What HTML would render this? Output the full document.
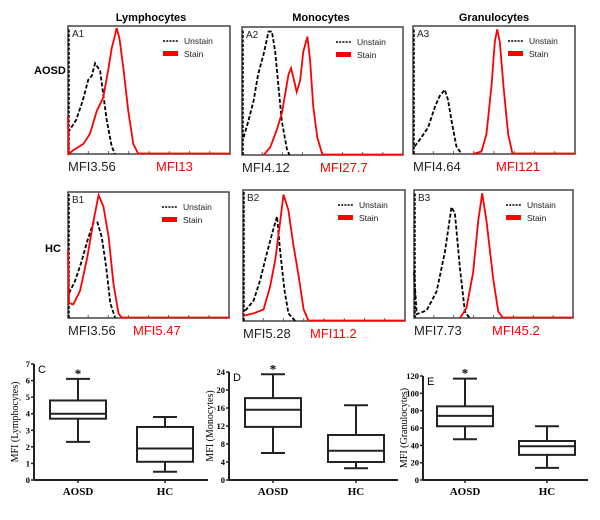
<!DOCTYPE html>
<html><head><meta charset="utf-8"><style>
body{margin:0;background:#fff;width:600px;height:520px;overflow:hidden}
svg{display:block}
.t{font-family:"Liberation Sans",sans-serif}
.s{font-family:"Liberation Serif",serif}
</style></head><body>
<svg id="fig" width="600" height="520" viewBox="0 0 600 520"></svg>
<script>
// ---------- Histogram data (x fraction, relative height) ----------
const a1Unstain=[[0,0.17],[0.05,0.27],[0.09,0.42],[0.125,0.59],[0.146,0.62],[0.167,0.72],[0.198,0.66],[0.218,0.47],[0.239,0.27],[0.27,0.06],[0.29,0]];
const a1Stain=[[0,0.3],[0.005,0],[0.033,0.03],[0.095,0.08],[0.136,0.16],[0.177,0.34],[0.218,0.45],[0.25,0.68],[0.27,0.84],[0.29,0.94],[0.3,1.0],[0.317,0.92],[0.342,0.68],[0.372,0.34],[0.403,0.08],[0.434,0]];
const a2Unstain=[[0.01,0.14],[0.04,0.27],[0.072,0.43],[0.1,0.64],[0.134,0.8],[0.165,0.98],[0.186,0.98],[0.206,0.82],[0.227,0.54],[0.247,0.27],[0.278,0.05],[0.295,0]];
const a2Stain=[[0.134,0],[0.175,0.06],[0.216,0.2],[0.247,0.33],[0.268,0.48],[0.289,0.64],[0.305,0.69],[0.32,0.61],[0.34,0.5],[0.361,0.59],[0.381,0.82],[0.406,0.94],[0.423,0.75],[0.443,0.38],[0.468,0.14],[0.5,0]];
const a3Unstain=[[0.01,0.06],[0.04,0.11],[0.093,0.21],[0.134,0.37],[0.165,0.46],[0.196,0.51],[0.216,0.43],[0.237,0.27],[0.268,0.06],[0.3,0]];
const a3Stain=[[0.371,0],[0.423,0.02],[0.454,0.16],[0.485,0.55],[0.505,0.89],[0.52,0.99],[0.536,0.89],[0.56,0.52],[0.587,0.16],[0.614,0]];
const b1Unstain=[[0.006,0.2],[0.044,0.3],[0.085,0.46],[0.12,0.62],[0.158,0.77],[0.183,0.77],[0.21,0.65],[0.237,0.41],[0.263,0.12],[0.293,0]];
const b1Stain=[[0,0.55],[0.006,0.12],[0.033,0.11],[0.075,0.22],[0.12,0.49],[0.158,0.78],[0.19,0.99],[0.22,0.9],[0.253,0.65],[0.282,0.28],[0.313,0.04],[0.334,0]];
const b2Unstain=[[0.014,0.08],[0.066,0.16],[0.107,0.32],[0.148,0.53],[0.18,0.68],[0.21,0.81],[0.23,0.53],[0.255,0.25],[0.28,0.06],[0.322,0]];
const b2Stain=[[0.004,0.04],[0.066,0.06],[0.127,0.09],[0.168,0.27],[0.2,0.48],[0.23,0.78],[0.25,0.98],[0.28,0.86],[0.31,0.6],[0.343,0.35],[0.374,0.09],[0.405,0]];
const b3Unstain=[[0,0.37],[0.017,0.03],[0.079,0.06],[0.142,0.21],[0.194,0.52],[0.236,0.88],[0.257,0.83],[0.289,0.39],[0.32,0.05],[0.35,0]];
const b3Stain=[[0.289,0],[0.33,0.08],[0.372,0.36],[0.404,0.77],[0.429,0.99],[0.456,0.77],[0.498,0.31],[0.53,0.05],[0.56,0]];
const histLabels=["A1","A2","A3","B1","B2","B3"];
const mfiUnstain=["MFI3.56","MFI4.12","MFI4.64","MFI3.56","MFI5.28","MFI7.73"];
const mfiStain=["MFI13","MFI27.7","MFI121","MFI5.47","MFI11.2","MFI45.2"];
// ---------- Box plot data ----------
const boxGroups=["AOSD","HC"];
const lymphAOSD=[2.3,3.7,4.0,4.8,6.1];
const lymphHC=[0.5,1.1,1.9,3.2,3.8];
const monoAOSD=[6,11.8,15.6,18.2,23.5];
const monoHC=[2.6,4,6.5,10,16.6];
const granAOSD=[47,62,74,85,117];
const granHC=[14,29,39,45,62];
const lymphTicks=[0,1,2,3,4,5,6,7];
const monoTicks=[0,4,8,12,16,20,24];
const granTicks=[0,20,40,60,80,100,120];

const NS="http://www.w3.org/2000/svg";
const svg=document.getElementById('fig');
function mk(tag,attrs,parent){const e=document.createElementNS(NS,tag);for(const k in attrs)e.setAttribute(k,attrs[k]);(parent||svg).appendChild(e);return e;}
function txt(s,attrs,parent){const e=mk('text',attrs,parent);e.textContent=s;return e;}

const tt1=txt("Lymphocytes",{x:151,y:21,'text-anchor':'middle','font-size':11,'font-weight':'bold',class:'t'});

const tt2=txt("Monocytes",{x:321,y:21,'text-anchor':'middle','font-size':11,'font-weight':'bold',class:'t'});

const tt3=txt("Granulocytes",{x:494,y:21,'text-anchor':'middle','font-size':11,'font-weight':'bold',class:'t'});

const r1=txt("AOSD",{x:34,y:74,'font-size':11,'font-weight':'bold',class:'t'});

const r2=txt("HC",{x:45,y:252,'font-size':11,'font-weight':'bold',class:'t'});


const panels=[
 {x:68,y:26,w:162,h:128,u:a1Unstain,s:a1Stain,redX:156},
 {x:242,y:27,w:161,h:128,u:a2Unstain,s:a2Stain,redX:320},
 {x:413,y:26,w:162,h:128,u:a3Unstain,s:a3Stain,redX:496},
 {x:68,y:192,w:161,h:126,u:b1Unstain,s:b1Stain,redX:133},
 {x:243,y:190,w:162,h:131,u:b2Unstain,s:b2Stain,redX:310},
 {x:414,y:190,w:159,h:128,u:b3Unstain,s:b3Stain,redX:492}
];
panels.forEach((p,i)=>{
  const g=mk('g',{});
  
  
  const sx=f=>p.x+f*p.w, sy=h=>p.y+p.h-h*(p.h-2);
  mk('rect',{x:p.x,y:p.y,width:p.w,height:p.h,fill:'none',stroke:'#444','stroke-width':1.5},g);
  for(let k=1;k<8;k++)mk('line',{x1:p.x+k*p.w/8,x2:p.x+k*p.w/8,y1:p.y+p.h,y2:p.y+p.h-3,stroke:'#444','stroke-width':0.8},g);
  mk('line',{x1:p.x+1,x2:p.x+1,y1:p.y+p.h,y2:p.y+2,stroke:'#000','stroke-width':1.5,'stroke-dasharray':'3,1.5'},g);
  const ptsU=p.u.map(d=>sx(d[0]).toFixed(1)+','+sy(d[1]).toFixed(1)).join(' ');
  const pu=mk('polyline',{points:ptsU,fill:'none',stroke:'#000','stroke-width':1.8,'stroke-dasharray':'4,2'},g);
  
  const ptsS=p.s.map(d=>sx(d[0]).toFixed(1)+','+sy(d[1]).toFixed(1)).join(' ');
  const ps=mk('polyline',{points:ptsS,fill:'none',stroke:'#f00','stroke-width':1.8},g);
  
  const last=p.s[p.s.length-1][0];
  mk('line',{x1:sx(last),x2:p.x+p.w,y1:p.y+p.h-0.5,y2:p.y+p.h-0.5,stroke:'#f00','stroke-width':1.8},g);
  const lb=txt(histLabels[i],{x:p.x+4,y:p.y+11,'font-size':10,class:'t',fill:'#222'},g);
  
  const lx=p.x+p.w-67, ly=p.y+15;
  const lg=mk('g',{},g);
  
  mk('line',{x1:lx,x2:lx+15,y1:ly,y2:ly,stroke:'#000','stroke-width':1.5,'stroke-dasharray':'2,1.2'},lg);
  txt("Unstain",{x:lx+21,y:ly+3,'font-size':8.5,class:'t',fill:'#222'},lg);
  mk('rect',{x:lx,y:ly+10,width:15,height:5,fill:'#f00'},lg);
  txt("Stain",{x:lx+21,y:ly+16,'font-size':8.5,class:'t',fill:'#222'},lg);
  const m1=txt(mfiUnstain[i],{x:p.x,y:p.y+p.h+17,'font-size':13,class:'t',fill:'#222'});
  
  const m2=txt(mfiStain[i],{x:p.redX,y:p.y+p.h+17,'font-size':13,class:'t',fill:'#f00'});
  
});

const boxes=[
 {ax:34,xEnd:208,top:364,max:7,ticks:lymphTicks,d:[lymphAOSD,lymphHC],cx:[78,165],title:"MFI (Lymphocytes)",letter:"C",name:'lymphocytes'},
 {ax:229,xEnd:398,top:372,max:24,ticks:monoTicks,d:[monoAOSD,monoHC],cx:[273,356],title:"MFI (Monocytes)",letter:"D",name:'monocytes'},
 {ax:423,xEnd:588,top:376,max:120,ticks:granTicks,d:[granAOSD,granHC],cx:[465,547],title:"MFI (Granulocytes)",letter:"E",name:'granulocytes'}
];
const base=480;
boxes.forEach(b=>{
  const g=mk('g',{});
  
  
  const y=v=>base-(v/b.max)*(base-b.top);
  mk('line',{x1:b.ax,x2:b.ax,y1:y(b.max),y2:base,stroke:'#222','stroke-width':2},g);
  mk('line',{x1:b.ax,x2:b.xEnd,y1:base,y2:base,stroke:'#222','stroke-width':2},g);
  b.ticks.forEach(t=>{
    mk('line',{x1:b.ax-3,x2:b.ax,y1:y(t),y2:y(t),stroke:'#222','stroke-width':1.5},g);
    const tl=txt(String(t),{x:b.ax-4,y:y(t)+3,'text-anchor':'end','font-size':8.5,'font-weight':'bold',class:'s'},g);
    
  });
  const yt=txt(b.title,{x:0,y:0,'text-anchor':'middle','font-size':10,class:'s',transform:`translate(${b.ax-16},${(b.top+base)/2}) rotate(-90)`},g);
  
  txt(b.letter,{x:b.ax+4,y:b.top+9,'font-size':11,class:'t'},g);
  b.d.forEach((v,j)=>{
    const cx=b.cx[j], hw=28;
    const bg=mk('g',{},g);
    
    
    const sw=2;
    mk('line',{x1:cx,x2:cx,y1:y(v[0]),y2:y(v[1]),stroke:'#222','stroke-width':sw},bg);
    mk('line',{x1:cx,x2:cx,y1:y(v[3]),y2:y(v[4]),stroke:'#222','stroke-width':sw},bg);
    mk('line',{x1:cx-12,x2:cx+12,y1:y(v[0]),y2:y(v[0]),stroke:'#222','stroke-width':sw},bg);
    mk('line',{x1:cx-12,x2:cx+12,y1:y(v[4]),y2:y(v[4]),stroke:'#222','stroke-width':sw},bg);
    mk('rect',{x:cx-hw,y:y(v[3]),width:hw*2,height:y(v[1])-y(v[3]),fill:'#fff',stroke:'#222','stroke-width':sw},bg);
    mk('line',{x1:cx-hw,x2:cx+hw,y1:y(v[2]),y2:y(v[2]),stroke:'#222','stroke-width':sw},bg);
    mk('line',{x1:cx,x2:cx,y1:base,y2:base+3,stroke:'#222','stroke-width':1.5},bg);
    const cl=txt(boxGroups[j],{x:cx,y:base+15,'text-anchor':'middle','font-size':11,'font-weight':'bold',class:'s'},g);
    
    if(j===0){const a=txt("*",{x:cx,y:y(v[4])-1,'text-anchor':'middle','font-size':13,'font-weight':'bold',class:'s'},g);
      }
  });
});
</script>
</body></html>
